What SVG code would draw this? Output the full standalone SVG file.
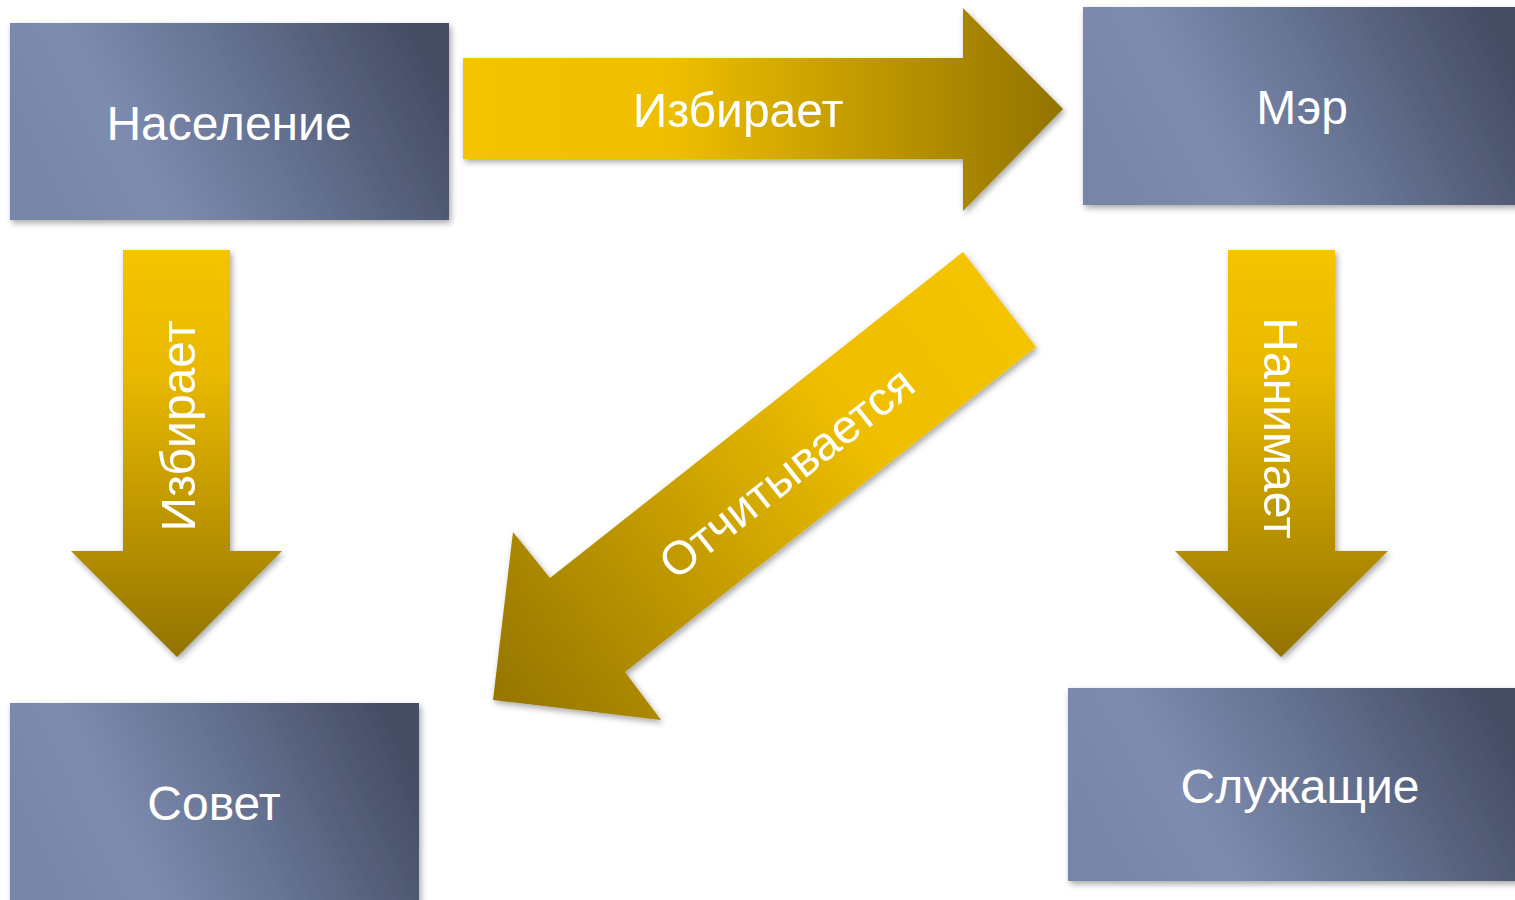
<svg xmlns="http://www.w3.org/2000/svg" width="1515" height="900" viewBox="0 0 1515 900">
<defs>
  <linearGradient id="boxGrad" x1="0" y1="0.62" x2="1" y2="0.38">
    <stop offset="0" stop-color="#7785a9"/>
    <stop offset="0.25" stop-color="#7e8cb0"/>
    <stop offset="0.6" stop-color="#63708f"/>
    <stop offset="1" stop-color="#464d64"/>
  </linearGradient>
  <linearGradient id="arrH" gradientUnits="userSpaceOnUse" x1="463" y1="110" x2="1063" y2="110">
    <stop offset="0" stop-color="#f4c400"/>
    <stop offset="0.35" stop-color="#eebe00"/>
    <stop offset="1" stop-color="#927300"/>
  </linearGradient>
  <linearGradient id="arrV" x1="0" y1="0" x2="0" y2="1">
    <stop offset="0" stop-color="#f4c400"/>
    <stop offset="0.3" stop-color="#e9b900"/>
    <stop offset="1" stop-color="#927300"/>
  </linearGradient>
  <linearGradient id="arrD" gradientUnits="userSpaceOnUse" x1="1000" y1="300" x2="500" y2="690">
    <stop offset="0" stop-color="#f4c400"/>
    <stop offset="0.3" stop-color="#eebe00"/>
    <stop offset="1" stop-color="#977700"/>
  </linearGradient>
  <filter id="shadow" x="-10%" y="-10%" width="125%" height="130%">
    <feDropShadow dx="2" dy="3" stdDeviation="3" flood-color="#000" flood-opacity="0.35"/>
  </filter>
</defs>
<style>
  .box { fill: url(#boxGrad); filter: url(#shadow); }
  .arrow { filter: url(#shadow); }
  .lbl { font-family: "Liberation Sans", Arial, sans-serif; font-size: 48px; fill: #ffffff; text-anchor: middle; }
</style>
<rect width="1515" height="900" fill="#ffffff"/>

<g id="connectors">
  <g id="arrow-naselenie-mer" class="arrow">
    <polygon points="463,58 963,58 963,8 1063,109 963,211 963,159 463,159" fill="url(#arrH)"/>
    <text class="lbl" x="738" y="127">Избирает</text>
  </g>
  <g id="arrow-naselenie-sovet" class="arrow">
    <polygon points="123,250 230,250 230,551 282,551 177,657 71,551 123,551" fill="url(#arrV)"/>
    <text class="lbl" transform="translate(195,426) rotate(-90)" x="0" y="0">Избирает</text>
  </g>
  <g id="arrow-mer-sluzhashchie" class="arrow">
    <polygon points="1228,250 1335,250 1335,551 1388,551 1281,657 1175,551 1228,551" fill="url(#arrV)"/>
    <text class="lbl" transform="translate(1264,428) rotate(90)" x="0" y="0">Нанимает</text>
  </g>
  <g id="arrow-mer-sovet" class="arrow">
    <polygon points="963,252 1036,347 625,672 661,720 493,700 513,532 550,578" fill="url(#arrD)"/>
    <text class="lbl" transform="translate(786,472) rotate(-38.3)" x="0" y="17" style="font-size:47px">Отчитывается</text>
  </g>
</g>

<g id="node-naselenie">
  <rect class="box" x="10" y="23" width="439" height="197"/>
  <text class="lbl" x="229" y="140">Население</text>
</g>
<g id="node-mer">
  <rect class="box" x="1083" y="7" width="440" height="198"/>
  <text class="lbl" x="1302" y="124">Мэр</text>
</g>
<g id="node-sovet">
  <rect class="box" x="10" y="703" width="409" height="205"/>
  <text class="lbl" x="214" y="820">Совет</text>
</g>
<g id="node-sluzhashchie">
  <rect class="box" x="1068" y="688" width="455" height="193"/>
  <text class="lbl" x="1300" y="803">Служащие</text>
</g>
</svg>
